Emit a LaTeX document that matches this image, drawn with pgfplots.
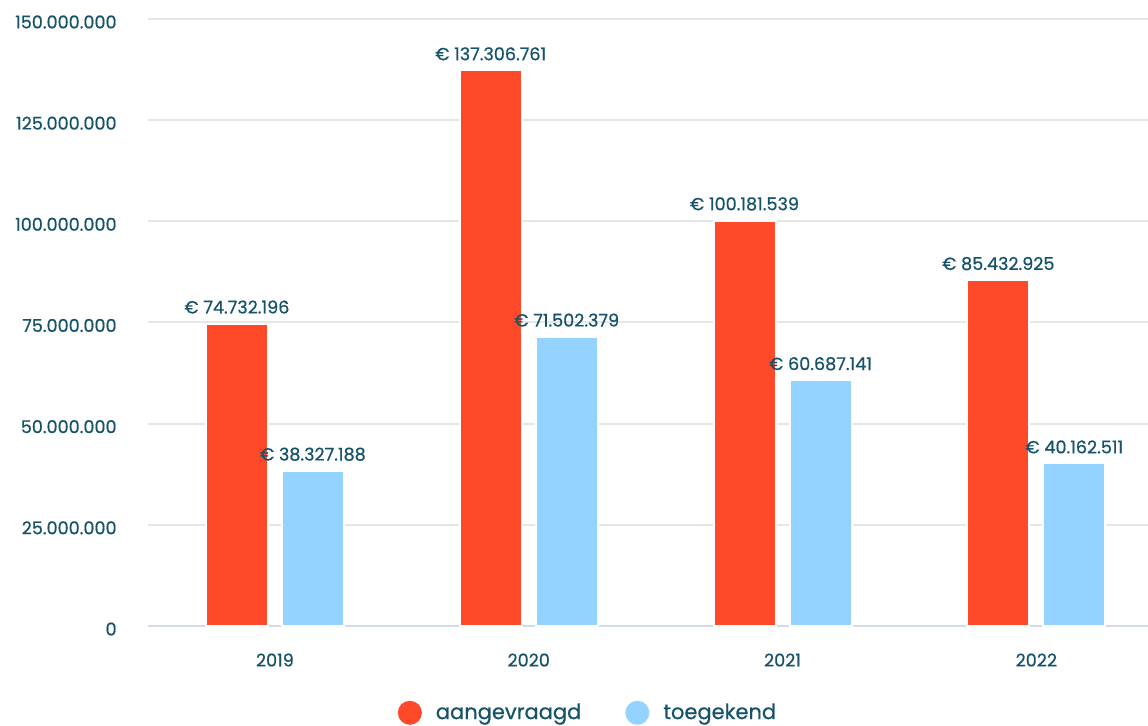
\documentclass[border=0pt]{standalone}
\usepackage{fontspec}
\setmainfont{Poppins}[FakeBold=0.6]
\usepackage{pgfplots}
\pgfplotsset{compat=1.18}
\definecolor{cred}{HTML}{FF4A2A}
\definecolor{cblue}{HTML}{94D3FF}
\definecolor{ctext}{HTML}{16536B}
\definecolor{cgrid}{HTML}{E6E6E6}
\definecolor{caxis}{HTML}{D3DCE8}
\begin{document}
\begin{tikzpicture}
\begin{axis}[
  name=ax, at={(0,0)}, anchor=south west,
  scale only axis, width=500pt, height=303.5pt,
  xmin=-0.5, xmax=3.44, ymin=0, ymax=150000000,
  scaled y ticks=false,
  ybar=7pt, bar width=31pt,
  axis line style={draw=none},
  major tick length=0pt,
  ymajorgrids,
  grid style={cgrid, line width=1pt},
  ytick={25000000,50000000,75000000,100000000,125000000,150000000},
  yticklabels={25.000.000,50.000.000,75.000.000,100.000.000,125.000.000,150.000.000},
  extra y ticks={0},
  extra y tick labels={0},
  extra y tick style={grid style={caxis, line width=1pt}},
  yticklabel style={anchor=east, inner sep=0pt, xshift=-15.5pt, yshift=-1.5pt, font=\fontsize{8.8}{10}\selectfont, color=ctext},
  xtick={0,1,2,3},
  xticklabels={2019,2020,2021,2022},
  xticklabel style={anchor=center, inner sep=0pt, yshift=-17pt, font=\fontsize{8.8}{10}\selectfont, color=ctext},
  point meta=explicit symbolic,
  nodes near coords,
  every node near coord/.append style={anchor=south, inner sep=0pt, yshift=4.5pt, font=\fontsize{8.8}{10}\selectfont, color=ctext},
  legend style={at={(0.441,-0.143)}, anchor=center, draw=none, fill=none, legend columns=2,
    font=\fontsize{10.5}{12}\selectfont, text=ctext,
    /tikz/every odd column/.append style={column sep=5pt},
    /tikz/every even column/.append style={column sep=20pt}},
]
\addplot[fill=cred, draw=white, line width=1pt,
  legend image code/.code={\fill[cred] (5.5pt,0pt) circle (5.5pt);}]
  coordinates {(0,74732196) [€ 74.732.196] (1,137306761) [€ 137.306.761] (2,100181539) [€ 100.181.539] (3,85432925) [€ 85.432.925]};
\addlegendentry{aangevraagd}
\addplot[fill=cblue, draw=white, line width=1pt,
  legend image code/.code={\fill[cblue] (5.5pt,0pt) circle (5.5pt);}]
  coordinates {(0,38327188) [€ 38.327.188] (1,71502379) [€ 71.502.379] (2,60687141) [€ 60.687.141] (3,40162511) [€ 40.162.511]};
\addlegendentry{toegekend}
\end{axis}
\pgfresetboundingbox
\path ([xshift=-74pt,yshift=-50pt]ax.south west) rectangle ([yshift=9.5pt]ax.north east);
\end{tikzpicture}
\end{document}
